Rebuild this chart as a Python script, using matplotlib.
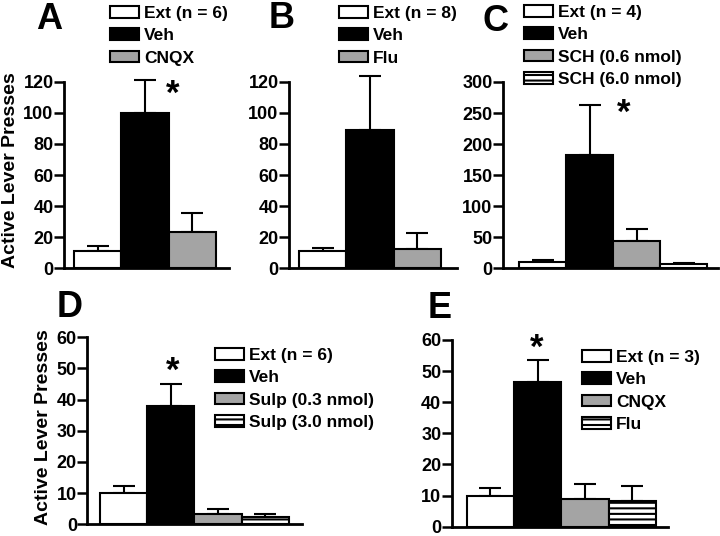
import matplotlib
matplotlib.use("Agg")
import matplotlib.pyplot as plt

plt.rcParams["font.family"] = ["Liberation Sans", "DejaVu Sans"]
plt.rcParams["font.weight"] = "bold"
plt.rcParams["hatch.linewidth"] = 1.5

W, H = 720, 536

# ---- data ----
A_labels = ["Ext (n = 6)", "Veh", "CNQX"]
A_means = [11.3, 100, 23.5]
A_errs = [3.0, 21, 12]

B_labels = ["Ext (n = 8)", "Veh", "Flu"]
B_means = [11.3, 89, 12.5]
B_errs = [1.5, 34.5, 10.5]

C_labels = ["Ext (n = 4)", "Veh", "SCH (0.6 nmol)", "SCH (6.0 nmol)"]
C_means = [9.7, 183, 44.5, 6.5]
C_errs = [3.3, 80, 18.5, 1.5]

D_labels = ["Ext (n = 6)", "Veh", "Sulp (0.3 nmol)", "Sulp (3.0 nmol)"]
D_means = [10.1, 37.9, 3.2, 2.3]
D_errs = [2.3, 7.0, 1.7, 0.9]

E_labels = ["Ext (n = 3)", "Veh", "CNQX", "Flu"]
E_means = [10.0, 46.6, 8.9, 8.4]
E_errs = [2.3, 7.0, 4.8, 4.6]

YLABEL = "Active Lever Presses"

# bar fill per position: Ext, Veh, drug 1, drug 2
FILLS = [dict(facecolor="white"),
         dict(facecolor="black"),
         dict(facecolor="#a4a4a4"),
         dict(facecolor="white", hatch="---")]

# pixel geometry: axis left/right, zero line, top line, first bar edge, bar width
PANELS = [
    dict(letter="A", labels=A_labels, means=A_means, errs=A_errs, ymax=120, step=20,
         left=64, right=229, y0=268.3, ytop=81.7, bar0=74, bw=47.3,
         letter_xy=(36, 29), leg_xy=(110, 6), star=(1.59, 112), ylabel=(11, 170)),
    dict(letter="B", labels=B_labels, means=B_means, errs=B_errs, ymax=120, step=20,
         left=289, right=457, y0=268.3, ytop=81.7, bar0=299, bw=47.3,
         letter_xy=(269, 28), leg_xy=(339, 6), star=None, ylabel=None),
    dict(letter="C", labels=C_labels, means=C_means, errs=C_errs, ymax=300, step=50,
         left=503, right=718, y0=268.3, ytop=82, bar0=519, bw=47,
         letter_xy=(483, 31), leg_xy=(524, 5), star=(1.73, 250), ylabel=None),
    dict(letter="D", labels=D_labels, means=D_means, errs=D_errs, ymax=60, step=10,
         left=87.3, right=302, y0=524.3, ytop=337.3, bar0=100, bw=47.2,
         letter_xy=(57, 317), leg_xy=(215, 348), star=(1.03, 49), ylabel=(44, 427)),
    dict(letter="E", labels=E_labels, means=E_means, errs=E_errs, ymax=60, step=10,
         left=451.7, right=668, y0=526.7, ytop=340, bar0=466.7, bw=47.3,
         letter_xy=(428, 318), leg_xy=(582, 350), star=(0.98, 57.4), ylabel=None),
]


def fx(px):
    return px / W


def fy(py):
    return 1 - py / H


fig = plt.figure(figsize=(W / 100, H / 100), dpi=100)

for p in PANELS:
    ax = fig.add_axes([fx(p["left"]), fy(p["y0"]),
                       (p["right"] - p["left"]) / W, (p["y0"] - p["ytop"]) / H])
    n = len(p["means"])
    xs = list(range(n))
    bars = []
    for i in xs:
        b = ax.bar(i, p["means"][i], width=1.0, edgecolor="black", linewidth=1.5,
                   zorder=3, **FILLS[i])
        bars.append(b[0])
    eb = ax.errorbar(xs, p["means"], yerr=[[0] * n, p["errs"]], fmt="none",
                     ecolor="black", elinewidth=1.5, capsize=8, capthick=1.5, zorder=2)
    # caps above the axis top must stay visible
    for art in eb.lines[1] + eb.lines[2]:
        art.set_clip_on(False)

    xmin = -0.5 - (p["bar0"] - p["left"]) / p["bw"]
    ax.set_xlim(xmin, xmin + (p["right"] - p["left"]) / p["bw"])
    ax.set_ylim(0, p["ymax"])
    ax.set_yticks(range(0, p["ymax"] + 1, p["step"]))
    ax.set_xticks([])
    ax.spines[["top", "right"]].set_visible(False)
    ax.spines[["left", "bottom"]].set_linewidth(2)
    ax.tick_params(axis="y", length=7, width=1.8, labelsize=13, pad=0.5)
    for t in ax.get_yticklabels():
        t.set_fontweight("bold")
    ax.patch.set_visible(False)

    if p["star"]:
        ax.text(p["star"][0], p["star"][1], "*", fontsize=25, fontweight="bold",
                ha="center", va="center")
    if p["ylabel"]:
        fig.text(fx(p["ylabel"][0]), fy(p["ylabel"][1]), YLABEL, rotation=90,
                 fontsize=14, fontweight="bold", ha="center", va="center")

    fig.text(fx(p["letter_xy"][0]), fy(p["letter_xy"][1]), p["letter"],
             fontsize=26, fontweight="bold", ha="left", va="baseline")

    fig.legend(bars, p["labels"], loc="upper left",
               bbox_to_anchor=(fx(p["leg_xy"][0]), fy(p["leg_xy"][1])),
               frameon=False, borderpad=0, borderaxespad=0,
               handlelength=1.65, handleheight=0.65, handletextpad=0.3,
               labelspacing=0.42, prop=dict(weight="bold", size=12.5))

fig.savefig("out.png", dpi=100)
